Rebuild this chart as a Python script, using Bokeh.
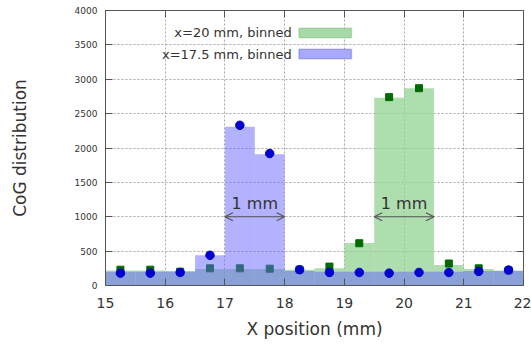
from bokeh.plotting import figure
from bokeh.models import (ColumnDataSource, FixedTicker, LinearAxis, BoxAnnotation,
                          Label, Arrow, OpenHead, CustomJSTickFormatter)
from bokeh.embed import file_html
from bokeh.resources import INLINE

# 0.5 mm bins between 15 and 22 mm
bin_edges = [15.0, 15.5, 16.0, 16.5, 17.0, 17.5, 18.0, 18.5, 19.0, 19.5, 20.0, 20.5, 21.0, 21.5, 22.0]
bin_centers = [15.25, 15.75, 16.25, 16.75, 17.25, 17.75, 18.25, 18.75, 19.25, 19.75, 20.25, 20.75, 21.25, 21.75]

# binned histograms (bars)
hist_17p5 = [200, 200, 200, 440, 2310, 1910, 210, 200, 200, 200, 200, 200, 210, 210]
hist_20 = [220, 220, 210, 240, 240, 240, 230, 250, 620, 2730, 2870, 300, 240, 220]

# measured points
pts_17p5 = [180, 180, 190, 440, 2330, 1920, 230, 190, 190, 180, 190, 190, 205, 225]
pts_20 = [230, 230, 200, 250, 250, 245, 230, 275, 615, 2740, 2870, 320, 250, 220]

x_ticks = [15, 16, 17, 18, 19, 20, 21, 22]
y_ticks = [0, 500, 1000, 1500, 2000, 2500, 3000, 3500, 4000]

legend_labels = ["x=20 mm, binned", "x=17.5 mm, binned"]

# 1 mm markers: (start, end) in mm, drawn at count level 1000
span_17p5 = (17.0, 18.0)
span_20 = (19.5, 20.5)
span_level = 1000

FONT = "DejaVu Sans"
TXT = "#333333"
FRAME = "#555555"

src20 = ColumnDataSource(dict(left=bin_edges[:-1], right=bin_edges[1:], top=hist_20,
                              x=bin_centers, y=pts_20))
src17 = ColumnDataSource(dict(left=bin_edges[:-1], right=bin_edges[1:], top=hist_17p5,
                              x=bin_centers, y=pts_17p5))

p = figure(frame_width=418, frame_height=275, x_range=(15, 22), y_range=(0, 4000),
           output_backend="svg", toolbar_location=None,
           min_border_left=105, min_border_right=8, min_border_top=10, min_border_bottom=68,
           background_fill_color="white", border_fill_color="white")

p.outline_line_color = FRAME
p.outline_line_width = 1

# histograms and points: green first, blue drawn over it
p.quad(left="left", right="right", bottom=0, top="top", source=src20,
       fill_color="#8fd08f", fill_alpha=0.72, line_color=None)
p.scatter(x="x", y="y", source=src20, marker="square", size=7,
          fill_color="#006a00", line_color="#006a00")
p.quad(left="left", right="right", bottom=0, top="top", source=src17,
       fill_color="#6666ff", fill_alpha=0.5, line_color=None)
p.scatter(x="x", y="y", source=src17, marker="circle", size=8.5,
          fill_color="#0000d0", line_color="#0000d0")

# axes
for ax, ticks in ((p.xaxis[0], x_ticks), (p.yaxis[0], y_ticks)):
    ax.ticker = FixedTicker(ticks=ticks)
    ax.axis_line_color = FRAME
    ax.major_tick_line_color = FRAME
    ax.major_tick_in = 7
    ax.major_tick_out = 0
    ax.minor_tick_in = 0
    ax.minor_tick_out = 0
    ax.major_label_text_font = FONT
    ax.major_label_text_color = TXT
    ax.axis_label_text_font = FONT
    ax.axis_label_text_color = TXT
    ax.axis_label_text_font_style = "normal"

p.xaxis.axis_label = "X position (mm)"
p.xaxis.major_label_text_font_size = "14px"
p.xaxis.axis_label_text_font_size = "17px"
p.xaxis.major_label_standoff = 12
p.xaxis.axis_label_standoff = 8

p.yaxis.axis_label = "CoG distribution"
p.yaxis.major_label_text_font_size = "9px"
p.yaxis.axis_label_text_font_size = "17px"
p.yaxis.major_label_standoff = 8
p.yaxis.axis_label_standoff = 42

# mirrored tick marks on top and right
blank = CustomJSTickFormatter(code="return ''")
top_ax = LinearAxis(ticker=FixedTicker(ticks=x_ticks), formatter=blank,
                    axis_line_color=None, major_tick_line_color=FRAME,
                    major_tick_in=7, major_tick_out=0, minor_tick_in=0, minor_tick_out=0,
                    major_label_standoff=0)
right_ax = LinearAxis(ticker=FixedTicker(ticks=y_ticks), formatter=blank,
                      axis_line_color=None, major_tick_line_color=FRAME,
                      major_tick_in=7, major_tick_out=0, minor_tick_in=0, minor_tick_out=0,
                      major_label_standoff=0)
p.add_layout(top_ax, "above")
p.add_layout(right_ax, "right")

# dotted grid
p.xgrid.ticker = FixedTicker(ticks=x_ticks[1:-1])
p.ygrid.ticker = FixedTicker(ticks=y_ticks[1:-1])
for g in (p.xgrid[0], p.ygrid[0]):
    g.grid_line_color = "#a8a8a8"
    g.grid_line_dash = "2 2"
    g.grid_line_width = 1

# legend, text right-aligned with the swatch to its right
legend_rows = [(legend_labels[0], 3673, "#a6daa6", "#5aa05a"),
               (legend_labels[1], 3367, "#a8a8ff", "#4646a6")]
for text, yc, fill, edge in legend_rows:
    p.add_layout(BoxAnnotation(left=18.24, right=19.12, bottom=yc - 70, top=yc + 70,
                               fill_color=fill, fill_alpha=1.0,
                               line_color=edge, line_width=1.5))
    p.add_layout(Label(x=18.12, y=yc, text=text, text_align="right",
                       text_baseline="middle", text_font=FONT,
                       text_font_size="13px", text_color=TXT))

# "1 mm" double arrows
for (a, b) in (span_17p5, span_20):
    p.add_layout(Arrow(x_start=a, y_start=span_level, x_end=b, y_end=span_level,
                       start=OpenHead(size=8, line_color="#555555", line_width=1.2),
                       end=OpenHead(size=8, line_color="#555555", line_width=1.2),
                       line_color="#555555", line_width=1.2))
    p.add_layout(Label(x=(a + b) / 2, y=span_level, y_offset=4, text="1 mm",
                       text_align="center", text_baseline="bottom", text_font=FONT,
                       text_font_size="16px", text_color=TXT))

open("out.html", "w").write(file_html(p, INLINE))
